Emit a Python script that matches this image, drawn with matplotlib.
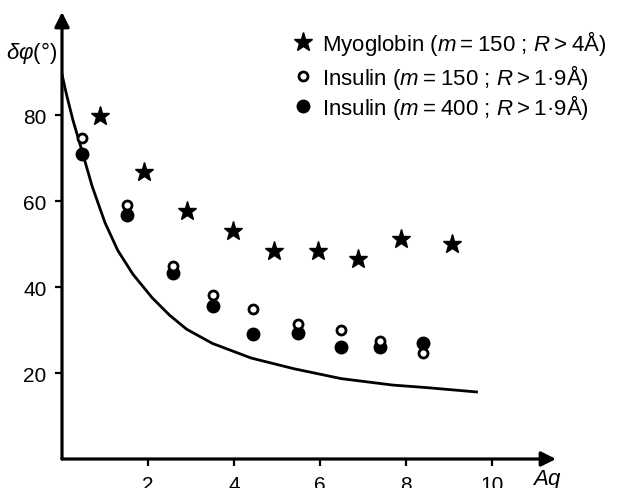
import matplotlib
matplotlib.use("Agg")
import matplotlib.pyplot as plt

plt.rcParams["font.family"] = ["Liberation Sans", "DejaVu Sans"]
plt.rcParams["mathtext.fontset"] = "custom"
plt.rcParams["mathtext.rm"] = "Liberation Sans"
plt.rcParams["mathtext.it"] = "Liberation Sans:italic"

# values
curve_x = [0.0, 0.1, 0.25, 0.47, 0.7, 1.0, 1.3, 1.65, 2.1, 2.5, 2.9, 3.5, 4.4, 5.4, 6.5, 7.7, 8.5, 9.65]
curve_y = [89.5, 85.0, 79.0, 71.5, 63.5, 55.0, 48.5, 43.0, 37.5, 33.5, 30.2, 26.9, 23.5, 21.0, 18.7, 17.2, 16.6, 15.6]

myo_x = [0.88, 1.9, 2.9, 3.97, 4.93, 5.95, 6.9, 7.9, 9.07]
myo_y = [79.8, 66.7, 57.7, 53.0, 48.4, 48.4, 46.5, 51.2, 50.0]

ins150_x = [0.47, 1.51, 2.58, 3.51, 4.44, 5.49, 6.49, 7.4, 8.4]
ins150_y = [74.6, 59.0, 44.9, 38.1, 34.9, 31.4, 30.0, 27.4, 24.7]

ins400_x = [0.47, 1.51, 2.58, 3.51, 4.44, 5.49, 6.49, 7.4, 8.4]
ins400_y = [71.0, 56.7, 43.3, 35.6, 29.1, 29.3, 26.0, 26.0, 27.0]

xticks = [2, 4, 6, 8, 10]
yticks = [20, 40, 60, 80]

ts = "\u2009"
legend_labels = [
    "Myoglobin ($m$" + ts + "=" + ts + "150 ; $R$" + ts + ">" + ts + "4Å)",
    "Insulin ($m$" + ts + "=" + ts + "150 ; $R$" + ts + ">" + ts + "1·9Å)",
    "Insulin ($m$" + ts + "=" + ts + "400 ; $R$" + ts + ">" + ts + "1·9Å)",
]

fig = plt.figure(figsize=(6.24, 4.89), dpi=100)
ax = fig.add_axes([62 / 624, 29 / 489, 494 / 624, 447 / 489])
ax.set_xlim(0, 11.5)
ax.set_ylim(0, 104)

for s in ax.spines.values():
    s.set_visible(False)

# axes with arrow heads
arrow = dict(arrowstyle="-|>", lw=2.3, color="black", mutation_scale=22, shrinkA=0, shrinkB=0)
ax.annotate("", xy=(11.5, 0), xytext=(0, 0), arrowprops=arrow, annotation_clip=False)
ax.annotate("", xy=(0, 104), xytext=(0, 0), arrowprops=arrow, annotation_clip=False)

ax.set_xticks(xticks)
ax.set_yticks(yticks)
ax.tick_params(direction="out", length=5, width=1.6, labelsize=15, color="black")
ax.tick_params(axis="x", pad=6.5)
ax.tick_params(axis="y", pad=6)

ax.plot(curve_x, curve_y, color="black", lw=2.0, solid_joinstyle="round")

ax.plot(myo_x, myo_y, linestyle="none", marker="*", markersize=14,
        color="black", clip_on=False)
ax.plot(ins150_x, ins150_y, linestyle="none", marker="o", markersize=6.5,
        markerfacecolor="white", markeredgecolor="black", markeredgewidth=2, zorder=4)
ax.plot(ins400_x, ins400_y, linestyle="none", marker="o", markersize=9,
        color="black", zorder=3)

# legend drawn by hand
leg_marker_x = 5.6
leg_text_x = 6.05
leg_y = [97.0, 89.1, 82.1]
ax.plot([leg_marker_x], [leg_y[0]], marker="*", markersize=14, color="black", clip_on=False)
ax.plot([leg_marker_x], [leg_y[1]], marker="o", markersize=6.5, markerfacecolor="white",
        markeredgecolor="black", markeredgewidth=2, clip_on=False)
ax.plot([leg_marker_x], [leg_y[2]], marker="o", markersize=9, color="black", clip_on=False)
for y, lab in zip(leg_y, legend_labels):
    ax.text(leg_text_x, y, lab, fontsize=16, va="center", ha="left", clip_on=False)

ax.text(-0.7, 94.6, r"$\delta\varphi$(°)", fontsize=16, ha="center", va="center")
ax.text(11.3, -4.6, r"$Aq$", fontsize=16, ha="center", va="center", clip_on=False)

fig.savefig("out.png", dpi=100)
